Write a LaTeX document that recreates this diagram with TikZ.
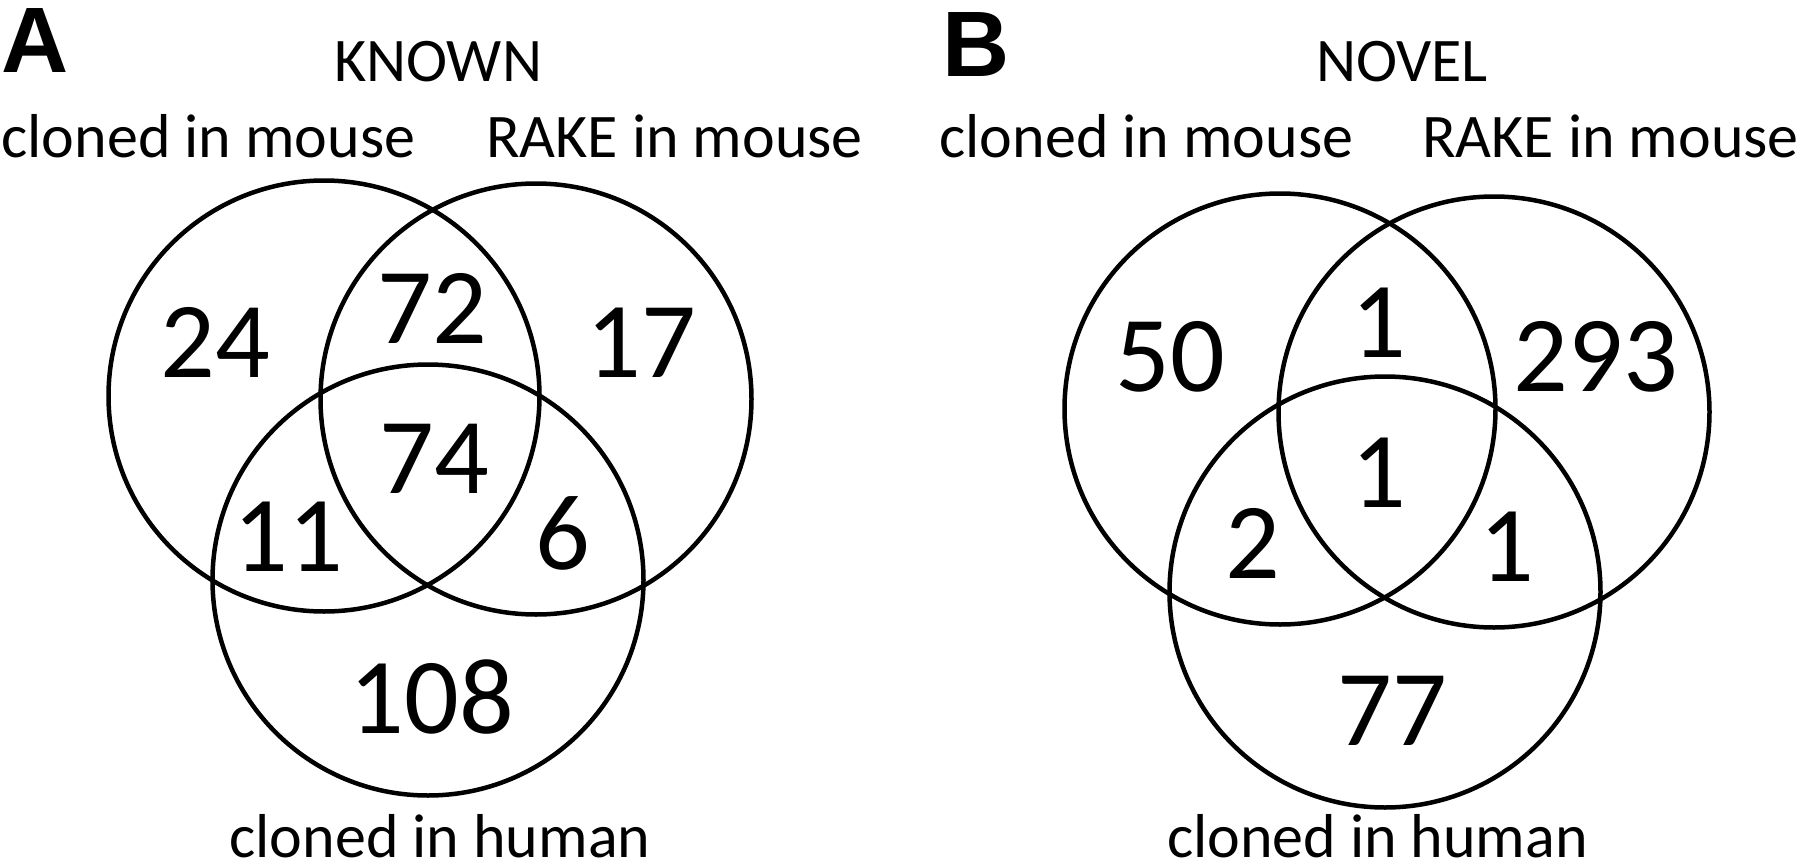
\documentclass[tikz,border=0pt]{standalone}
\usepackage{fontspec}
\setmainfont{Carlito}
\newfontfamily\panelfont{Liberation Sans}
\usepackage{tikz}

\begin{document}
\begin{tikzpicture}[
		x=1pt, y=-1pt,
		venn/.style={circle,draw,line width=4.5pt,minimum size=431pt,inner sep=0pt},
		count/.style={anchor=base,inner sep=0pt,font=\fontsize{108}{110}\selectfont},
		setlabel/.style={anchor=base,inner sep=0pt,font=\fontsize{62}{66}\selectfont},
		panel/.style={anchor=base west,inner sep=0pt,font=\panelfont\bfseries\fontsize{93}{96}\selectfont}
		]
		\useasboundingbox (0,0) rectangle (1800,862);

		% A: known
		\node[venn] (knownmouse) at (324,396) {};
		\node[venn] (knownrake) at (536,399) {};
		\node[venn] (knownhuman) at (428,580) {};
		\node[panel] (panela) at (1,72) {A};
		\node[setlabel] (knowntitle) at (438,81) {KNOWN};
		\node[setlabel] (knownmouselabel) at (208.5,157) {cloned in mouse};
		\node[setlabel] (knownrakelabel) at (674.5,157) {RAKE in mouse};
		\node[setlabel] (knownhumanlabel) at (440,857) {cloned in human};
		\node[count] (ka) at (215,377) {24};
		\node[count] (kb) at (432.5,343) {72};
		\node[count] (kc) at (641,377) {17};
		\node[count] (kd) at (434,493) {74};
		\node[count] (ke) at (288.5,571) {11};
		\node[count] (kf) at (562.5,569) {6};
		\node[count] (kg) at (432,733) {108};

		% B: novel
		\node[venn] (novelmouse) at (1280,409) {};
		\node[venn] (novelrake) at (1494,412) {};
		\node[venn] (novelhuman) at (1385,592) {};
		\node[panel] (panelb) at (942,76) {B};
		\node[setlabel] (noveltitle) at (1402,81) {NOVEL};
		\node[setlabel] (novelmouselabel) at (1146.5,157) {cloned in mouse};
		\node[setlabel] (novelrakelabel) at (1610.5,157) {RAKE in mouse};
		\node[setlabel] (novelhumanlabel) at (1377.5,857) {cloned in human};
		\node[count] (na) at (1170.5,391) {50};
		\node[count] (nb) at (1378.5,357) {1};
		\node[count] (nc) at (1596,391) {293};
		\node[count] (nd) at (1378.5,507) {1};
		\node[count] (ne) at (1253,578) {2};
		\node[count] (nf) at (1506.5,581) {1};
		\node[count] (ng) at (1392,745) {77};
	\end{tikzpicture}
\end{document}
